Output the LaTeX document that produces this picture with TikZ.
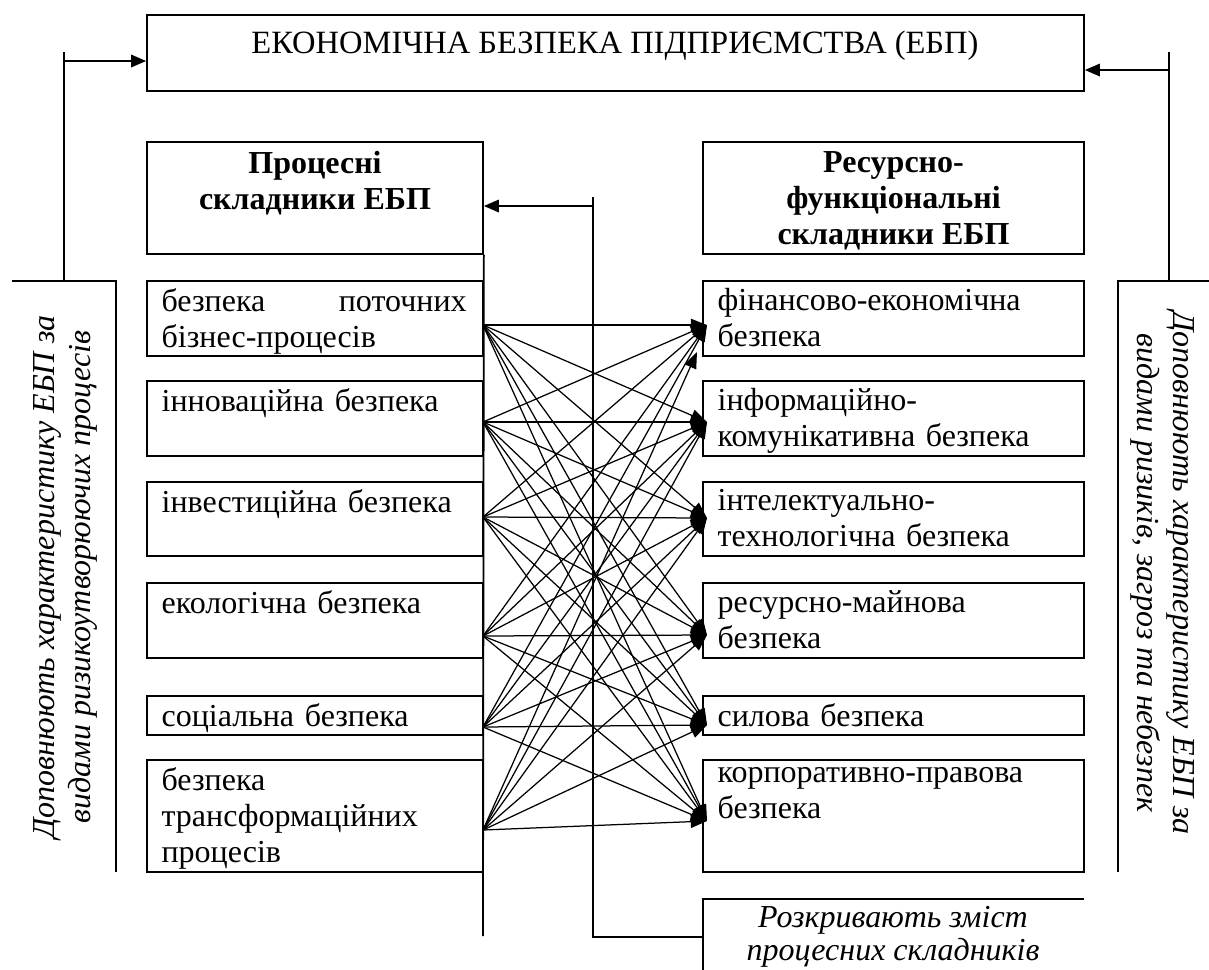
\documentclass[tikz,border=0pt]{standalone}
\usepackage{fontspec}
\setmainfont{Liberation Serif}
\usetikzlibrary{positioning,fit,arrows.meta}
\newcommand{\mainsize}{\fontsize{12.8}{14.4}\selectfont}
\tikzset{
    frame/.style = { draw,line width=0.7pt,inner sep=0, },
    wire/.style = { line width=0.7pt, },
    arrow/.style = { -{Triangle[length=6pt,width=5pt]},line width=0.7pt, },
    link/.style = { -{Triangle[length=6.5pt,width=5pt]},line width=0.5pt, },
    write/.style = { text=black,font=\mainsize,inner xsep=6pt,inner ysep=3pt,anchor=north west,align=left, },
    head/.style = { text=black,font=\mainsize\bfseries,inner sep=0,anchor=north,align=center, },
    side/.style = { text=black,font=\mainsize\itshape,inner sep=0,align=center, },
}
\newcommand{\block}[7]{
    \node [frame,fit={(#2,#3) (#4,#5)}] (#1) {};
    \node [write,text width=#6] (#1t) at (#1.north west) {#7};
}

\begin{document}
\begin{tikzpicture}[x=0.4pt,y=-0.4pt]

    \useasboundingbox (0,0) rectangle (1209,969);

    \node [frame,fit={(147,15) (1084,91)}] (eb) {};
    \node [font=\fontsize{13}{15}\selectfont,anchor=base,inner sep=0] (ebt) at (615,53) {ЕКОНОМІЧНА БЕЗПЕКА ПІДПРИЄМСТВА (ЕБП)};

    \node [frame,fit={(147,142) (483,254)}] (hl) {};
    \node [head] (hlt) at ([yshift=-4pt]hl.north) {Процесні\\складники ЕБП};
    \node [frame,fit={(703,142) (1084,254)}] (hr) {};
    \node [head] (hrt) at ([yshift=-4pt]hr.north) {Ресурсно-\\функціональні\\складники ЕБП};

    \block{l1}{147}{281}{483}{356}{122pt}{безпека\hfill поточних\\бізнес-процесів}
    \block{l2}{147}{381}{483}{456}{122pt}{інноваційна безпека}
    \block{l3}{147}{482}{483}{556}{122pt}{інвестиційна безпека}
    \block{l4}{147}{583}{483}{658}{122pt}{екологічна безпека}
    \block{l5}{147}{696}{483}{735}{122pt}{соціальна безпека}
    \block{l6}{147}{760}{483}{872}{122pt}{безпека\\трансформаційних\\процесів}

    \block{r1}{703}{281}{1084}{356}{145pt}{фінансово-економічна\\безпека}
    \block{r2}{703}{381}{1084}{456}{145pt}{інформаційно-\\комунікативна безпека}
    \block{r3}{703}{482}{1084}{556}{145pt}{інтелектуально-\\технологічна безпека}
    \block{r4}{703}{583}{1084}{658}{145pt}{ресурсно-майнова\\безпека}
    \block{r5}{703}{696}{1084}{735}{145pt}{силова безпека}
    \block{r6}{703}{760}{1084}{872}{145pt}{корпоративно-правова\\безпека}

    % side notes
    \draw [wire] (12,281) -- (116,281) -- (116,872);
    \node [side,rotate=90] (ls) at (65,577) {Доповнюють характеристику ЕБП за\\видами ризикоутворюючих процесів};
    \draw [wire] (1209,281) -- (1118,281) -- (1118,872);
    \node [side,rotate=-90] (rs) at (1163,573) {Доповнюють характеристику ЕБП за\\видами ризиків, загроз та небезпек};

    \coordinate (lk) at (64,61);
    \draw [wire] (64,281) -- (64,52);
    \draw [arrow] (lk) -- (lk -| eb.west);
    \coordinate (rk) at (1169,70);
    \draw [wire] (1169,281) -- (1169,52);
    \draw [arrow] (rk) -- (rk -| eb.east);

    % spine and bottom note
    \draw [wire] (hl.south east) -- (483,936);
    \coordinate (mk) at (593,206);
    \draw [wire] (593,197) -- (593,937) -- (703,937);
    \draw [arrow] (mk) -- (mk -| hl.east);
    \draw [wire] (703,975) -- (703,899) -- (1084,899);
    \node [side,font=\fontsize{12.8}{13}\selectfont\itshape,anchor=north] (rz) at (893,906) {Розкривають зміст\\процесних складників};

    \coordinate (s1) at (483,325);
    \coordinate (s2) at (483,422);
    \coordinate (s3) at (483,517);
    \coordinate (s4) at (483,636);
    \coordinate (s5) at (483,727);
    \coordinate (s6) at (483,830);
    \coordinate (t1) at (707,325);
    \coordinate (t2) at (707,422);
    \coordinate (t3) at (707,518);
    \coordinate (t4) at (707,635);
    \coordinate (t5) at (707,725);
    \coordinate (t6) at (707,821);
    \coordinate (t1x) at (697,352);

    \foreach \i in {1,...,5}
        \foreach \j in {1,...,6}
            \draw [link] (s\i) -- (t\j);
    \foreach \j in {2,...,6}
        \draw [link] (s6) -- (t\j);
    \draw [link] (s6) -- (t1x);

\end{tikzpicture}
\end{document}
